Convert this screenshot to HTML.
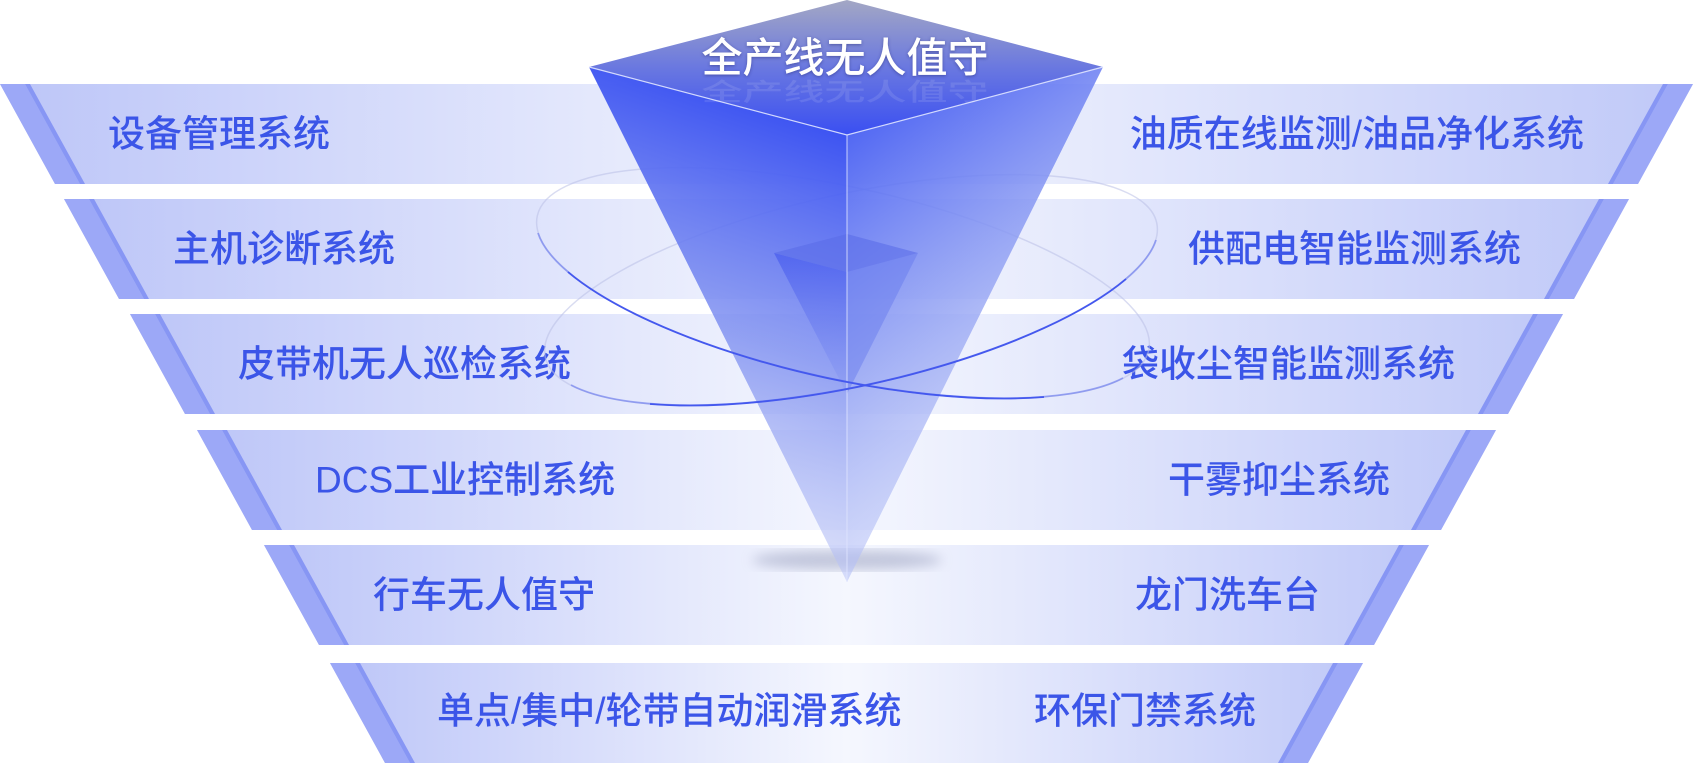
<!DOCTYPE html>
<html><head><meta charset="utf-8"><style>
html,body{margin:0;padding:0;background:#fff;}
svg{display:block;}
text{font-family:"Liberation Sans","Noto Sans CJK SC",sans-serif;}
</style></head><body>
<svg width="1693" height="763" viewBox="0 0 1693 763" xmlns="http://www.w3.org/2000/svg">
<defs>
<linearGradient id="band" x1="0" y1="0" x2="1" y2="0">
<stop offset="0" stop-color="#bcc5f8"/>
<stop offset="0.5" stop-color="#f5f7fe"/>
<stop offset="1" stop-color="#bfc8f8"/>
</linearGradient>
<linearGradient id="topf" x1="0" y1="0" x2="0" y2="1">
<stop offset="0" stop-color="#a3a7c4"/>
<stop offset="0.5" stop-color="#6a78e0"/>
<stop offset="1" stop-color="#3a4ff2"/>
</linearGradient>
<linearGradient id="leftf" gradientUnits="userSpaceOnUse" x1="847" y1="135" x2="700" y2="560">
<stop offset="0" stop-color="#3d54f2" stop-opacity="1"/>
<stop offset="0.5" stop-color="#7a8cf0" stop-opacity="0.8"/>
<stop offset="1" stop-color="#c5cdf7" stop-opacity="0.5"/>
</linearGradient>
<linearGradient id="rightf" gradientUnits="userSpaceOnUse" x1="847" y1="135" x2="1050" y2="400">
<stop offset="0" stop-color="#4a61f2" stop-opacity="0.95"/>
<stop offset="0.6" stop-color="#8f9ff3" stop-opacity="0.8"/>
<stop offset="1" stop-color="#b4bff6" stop-opacity="0.6"/>
</linearGradient>
<linearGradient id="inner" x1="0" y1="0" x2="0" y2="1">
<stop offset="0" stop-color="#4c60ee" stop-opacity="0.8"/>
<stop offset="1" stop-color="#7d8ef0" stop-opacity="0.2"/>
</linearGradient>
<filter id="blur"><feGaussianBlur stdDeviation="6"/></filter>
<filter id="ts"><feDropShadow dx="0" dy="1" stdDeviation="1.5" flood-color="#2a3080" flood-opacity="0.6"/></filter>
</defs>

<g>
<polygon points="0,84 1693,84 1638,184 55,184" fill="url(#band)"/>
<polygon points="0,84 25,84 80,184 55,184" fill="#9ca8f7"/>
<polygon points="25,84 30,84 85,184 80,184" fill="#8796f4"/>
<polygon points="1693,84 1668,84 1613,184 1638,184" fill="#9ca8f7"/>
<polygon points="1668,84 1663,84 1608,184 1613,184" fill="#8796f4"/>

<polygon points="64,199 1629,199 1574,299 119,299" fill="url(#band)"/>
<polygon points="64,199 89,199 144,299 119,299" fill="#9ca8f7"/>
<polygon points="89,199 94,199 149,299 144,299" fill="#8796f4"/>
<polygon points="1629,199 1604,199 1549,299 1574,299" fill="#9ca8f7"/>
<polygon points="1604,199 1599,199 1544,299 1549,299" fill="#8796f4"/>

<polygon points="130,314 1563,314 1508,414 185,414" fill="url(#band)"/>
<polygon points="130,314 155,314 210,414 185,414" fill="#9ca8f7"/>
<polygon points="155,314 160,314 215,414 210,414" fill="#8796f4"/>
<polygon points="1563,314 1538,314 1483,414 1508,414" fill="#9ca8f7"/>
<polygon points="1538,314 1533,314 1478,414 1483,414" fill="#8796f4"/>

<polygon points="197,430 1496,430 1441,530 252,530" fill="url(#band)"/>
<polygon points="197,430 222,430 277,530 252,530" fill="#9ca8f7"/>
<polygon points="222,430 227,430 282,530 277,530" fill="#8796f4"/>
<polygon points="1496,430 1471,430 1416,530 1441,530" fill="#9ca8f7"/>
<polygon points="1471,430 1466,430 1411,530 1416,530" fill="#8796f4"/>

<polygon points="264,545 1429,545 1374,645 319,645" fill="url(#band)"/>
<polygon points="264,545 289,545 344,645 319,645" fill="#9ca8f7"/>
<polygon points="289,545 294,545 349,645 344,645" fill="#8796f4"/>
<polygon points="1429,545 1404,545 1349,645 1374,645" fill="#9ca8f7"/>
<polygon points="1404,545 1399,545 1344,645 1349,645" fill="#8796f4"/>

<polygon points="330,663 1363,663 1308,763 385,763" fill="url(#band)"/>
<polygon points="330,663 355,663 410,763 385,763" fill="#9ca8f7"/>
<polygon points="355,663 360,663 415,763 410,763" fill="#8796f4"/>
<polygon points="1363,663 1338,663 1283,763 1308,763" fill="#9ca8f7"/>
<polygon points="1338,663 1333,663 1278,763 1283,763" fill="#8796f4"/>
</g>

<g fill="#3b55e8" font-size="37" font-weight="500" dominant-baseline="central">
<text x="108" y="134">设备管理系统</text>
<text x="173" y="249">主机诊断系统</text>
<text x="238" y="364">皮带机无人巡检系统</text>
<text x="315" y="480">DCS工业控制系统</text>
<text x="373" y="595">行车无人值守</text>
<text x="437" y="711">单点/集中/轮带自动润滑系统</text>
<g text-anchor="end">
<text x="1584" y="134">油质在线监测/油品净化系统</text>
<text x="1521" y="249">供配电智能监测系统</text>
<text x="1455" y="364">袋收尘智能监测系统</text>
<text x="1390" y="480">干雾抑尘系统</text>
<text x="1320" y="595">龙门洗车台</text>
<text x="1256" y="711">环保门禁系统</text>
</g>
</g>

<!-- faint full rings (behind pyramid) -->
<ellipse cx="843" cy="283" rx="313" ry="96" transform="rotate(12.4 843 283)" fill="none" stroke="#b9c0e6" stroke-opacity="0.55" stroke-width="1.5"/>
<ellipse cx="851" cy="290" rx="313" ry="96" transform="rotate(-12.4 851 290)" fill="none" stroke="#b9c0e6" stroke-opacity="0.55" stroke-width="1.5"/>

<ellipse cx="847" cy="560" rx="95" ry="10" fill="#9aa0c0" opacity="0.55" filter="url(#blur)"/>

<polygon points="589,67 847,135 847,582" fill="url(#leftf)"/>
<polygon points="1103,67 847,135 847,582" fill="url(#rightf)"/>
<polygon points="774,253 847,272 847,394" fill="url(#inner)"/>
<polygon points="918,253 847,272 847,394" fill="#6377ee" opacity="0.45"/>
<polygon points="847,234 918,253 847,272 774,253" fill="#5a6ce8" opacity="0.6"/>
<polygon points="847,0 1103,67 847,135 589,67" fill="url(#topf)"/>
<polyline points="589,67 847,135 1103,67" fill="none" stroke="#dfe4ff" stroke-width="1.2" opacity="0.9"/>
<line x1="847" y1="135" x2="847" y2="582" stroke="#e0e5ff" stroke-width="1.2" opacity="0.7"/>

<!-- bright front arcs -->
<g fill="none" stroke="#4458ee" stroke-width="1.8">
<path d="M538,233 A313 96 12.4 0 0 1123,378" stroke-opacity="0.45"/>
<path d="M568,272 A313 96 12.4 0 0 1044,397"/>
<path d="M1156,240 A313 96 -12.4 0 1 571,385" stroke-opacity="0.45"/>
<path d="M1126,279 A313 96 -12.4 0 1 650,404"/>
</g>

<text x="845" y="58" text-anchor="middle" dominant-baseline="central" font-size="41" font-weight="500" fill="#ffffff" filter="url(#ts)">全产线无人值守</text>
<text x="845" y="92" text-anchor="middle" dominant-baseline="central" font-size="41" font-weight="500" fill="#ffffff" opacity="0.1" transform="scale(1,0.6) translate(0,62)">全产线无人值守</text>
</svg>
</body></html>
